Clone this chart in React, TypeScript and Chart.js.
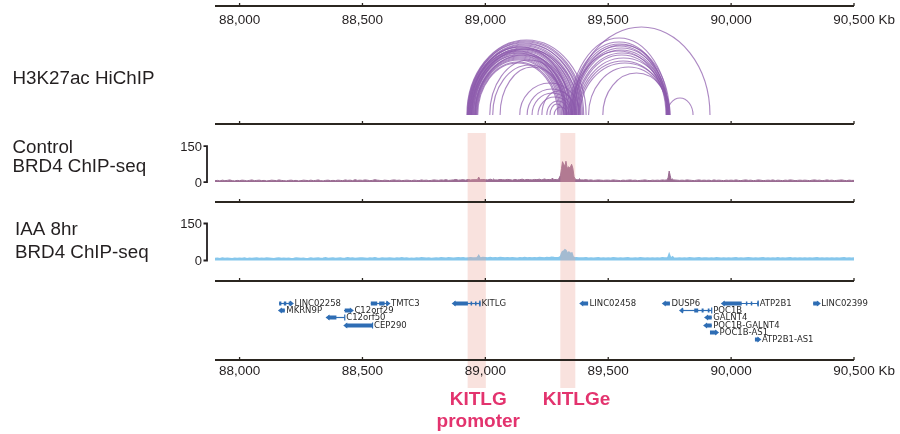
import React, { useEffect, useRef } from 'react';
import { Chart, registerables } from 'chart.js';

Chart.register(...registerables);

// Genomic window, in kb
const REGION_START = 87900;
const REGION_END = 90500;
const BIN_KB = 10;
const AXIS_TICKS = [88000, 88500, 89000, 89500, 90000, 90500];
const AXIS_UNIT = 'Kb';
const SIGNAL_TICKS = [0, 150];

// BRD4 ChIP-seq coverage in 10 kb bins starting at REGION_START
const controlBins = [
  6, 7, 5, 8, 6, 7, 9, 6, 5, 7,
  6, 8, 7, 5, 7, 9, 6, 7, 8, 6,
  7, 5, 6, 8, 7, 6, 9, 7, 6, 5,
  7, 8, 6, 7, 5, 6, 8, 7, 6, 8,
  6, 7, 9, 6, 5, 7, 8, 6, 7, 6,
  8, 7, 6, 9, 7, 8, 6, 10, 7, 8,
  7, 9, 8, 6, 7, 10, 8, 7, 6, 8,
  7, 6, 8, 9, 7, 8, 6, 7, 8, 7,
  6, 8, 7, 6, 9, 7, 8, 6, 7, 9,
  8, 7, 9, 8, 10, 7, 8, 9, 11, 8,
  9, 10, 8, 11, 9, 10, 12, 9, 10, 11,
  10, 9, 12, 10, 13, 9, 11, 10, 9, 11,
  10, 8, 11, 9, 10, 12, 9, 11, 10, 9,
  11, 10, 12, 9, 13, 10, 11, 12, 10, 11,
  12, 10, 10, 10, 10, 10, 10, 11, 10, 9,
  9, 10, 8, 9, 7, 8, 9, 8, 7, 8,
  8, 7, 9, 8, 7, 6, 8, 7, 8, 9,
  7, 8, 6, 7, 8, 9, 7, 6, 8, 7,
  8, 7, 9, 8, 10, 9, 8, 7, 8, 7,
  8, 7, 9, 8, 7, 6, 8, 9, 7, 8,
  7, 8, 6, 9, 7, 8, 7, 6, 8, 7,
  8, 7, 9, 7, 6, 8, 9, 7, 8, 6,
  7, 9, 8, 6, 7, 8, 7, 9, 6, 8,
  7, 6, 8, 7, 9, 8, 6, 7, 8, 7,
  8, 7, 6, 8, 9, 7, 8, 6, 7, 9,
  7, 8, 6, 7, 8, 9, 7, 6, 8, 7,
  7,
];

const iaaBins = [
  8, 9, 7, 10, 8, 9, 8, 7, 9, 8,
  9, 8, 10, 7, 9, 8, 9, 10, 8, 9,
  8, 10, 9, 8, 7, 9, 10, 8, 9, 8,
  9, 7, 8, 10, 9, 8, 9, 7, 8, 10,
  8, 9, 10, 8, 9, 11, 8, 9, 10, 8,
  9, 10, 8, 9, 11, 9, 10, 8, 9, 10,
  10, 9, 8, 10, 9, 11, 9, 8, 10, 9,
  9, 10, 9, 8, 10, 9, 11, 9, 10, 8,
  9, 8, 10, 9, 11, 10, 9, 10, 8, 9,
  10, 9, 11, 10, 9, 11, 10, 9, 10, 11,
  10, 11, 9, 10, 11, 10, 11, 10, 11, 12,
  11, 10, 12, 10, 11, 10, 12, 11, 10, 11,
  10, 11, 10, 9, 11, 10, 12, 10, 11, 10,
  11, 10, 12, 11, 10, 12, 11, 13, 12, 11,
  12, 11, 11, 11, 11, 11, 11, 11, 10, 10,
  10, 11, 9, 10, 9, 10, 11, 9, 10, 9,
  10, 9, 11, 10, 9, 10, 9, 10, 11, 9,
  9, 10, 9, 11, 10, 9, 10, 9, 10, 9,
  10, 9, 11, 10, 11, 10, 9, 10, 9, 10,
  9, 10, 9, 11, 10, 9, 10, 11, 9, 10,
  10, 9, 10, 9, 11, 10, 9, 10, 9, 10,
  9, 10, 11, 9, 10, 9, 10, 11, 10, 9,
  10, 9, 10, 11, 9, 10, 9, 10, 9, 11,
  9, 10, 9, 10, 11, 9, 10, 9, 10, 9,
  10, 9, 10, 9, 10, 11, 9, 10, 9, 10,
  9, 10, 9, 10, 9, 10, 11, 9, 10, 9,
  10,
];

// Finer coverage around the peaks
const controlPeakKb = [
  88966, 88970, 88973, 88977, 88981,
  89030, 89034, 89038,
  89268, 89273, 89278,
  89290, 89295, 89299, 89306, 89310, 89314, 89318, 89324, 89328, 89333, 89339, 89344, 89351, 89356, 89361, 89366, 89372, 89378, 89383, 89388,
  89740, 89744, 89748, 89752, 89756, 89762, 89766,
];
const controlPeakVal = [
  10, 15, 21, 13, 10,
  9, 13, 9,
  10, 17, 10,
  11, 10, 14, 29, 57, 85, 75, 68, 87, 58, 64, 58, 74, 58, 22, 12, 10, 9, 14, 9,
  9, 20, 46, 28, 10, 13, 9,
];
const iaaPeakKb = [
  88966, 88970, 88973, 88977, 88981,
  89293, 89299, 89306, 89310, 89314, 89319, 89324, 89328, 89335, 89340, 89347, 89352, 89357, 89364, 89370,
  89740, 89744, 89748, 89752, 89756, 89762, 89766,
];
const iaaPeakVal = [
  11, 15, 20, 13, 10,
  11, 12, 15, 28, 36, 38, 43, 40, 27, 34, 28, 30, 14, 10, 11,
  10, 14, 26, 15, 10, 15, 10,
];

// H3K27ac HiChIP loops: anchors (kb) and arc height
const loopStart = [
  88925, 88927, 88930, 88928, 88933, 88935, 88938, 88930, 88940, 88943,
  88936, 88945, 88948, 88941, 88950, 88953, 88946, 88956, 88958, 88960,
  88962, 88964, 88966, 88969, 88932, 88938, 88944, 88952, 88958, 89018,
  89030, 89060, 89140, 89170, 89190, 89214, 89250, 89263, 89280, 89230,
  89344, 89348, 89352, 89356, 89360, 89364, 89368, 89372, 89376, 89380,
  89385, 89420, 89478, 89356, 89739, 89350, 89362,
];
const loopEnd = [
  89410, 89400, 89395, 89385, 89390, 89378, 89372, 89365, 89368, 89360,
  89355, 89350, 89345, 89340, 89336, 89332, 89328, 89325, 89320, 89315,
  89310, 89305, 89300, 89295, 89330, 89345, 89320, 89380, 89352, 89340,
  89330, 89325, 89385, 89370, 89355, 89350, 89340, 89320, 89335, 89365,
  89745, 89740, 89742, 89738, 89746, 89740, 89744, 89738, 89748, 89742,
  89750, 89745, 89752, 89914, 89845, 89735, 89750,
];
const loopHeight = [
  75, 74, 73, 72, 71, 70, 69, 68, 67, 66,
  66, 65, 64, 63, 62, 61, 60, 59, 58, 57,
  56, 55, 53, 52, 64, 68, 62, 66, 60, 55,
  50, 48, 32, 26, 22, 18, 14, 11, 8, 24,
  77, 73, 71, 69, 67, 65, 62, 60, 57, 54,
  52, 48, 42, 88, 17, 64, 70,
];

// RefSeq genes
const geneNames = [
  'LINC02258', 'MKRN9P', 'TMTC3', 'C12orf29', 'C12orf50', 'CEP290', 'KITLG', 'LINC02458',
  'DUSP6', 'ATP2B1', 'LINC02399', 'POC1B', 'GALNT4', 'POC1B-GALNT4', 'POC1B-AS1', 'ATP2B1-AS1',
];
const geneStart = [88161, 88166, 88534, 88425, 88360, 88432, 88873, 89392, 89728, 89968, 90334, 89798, 89900, 89896, 89914, 90097];
const geneEnd = [88211, 88184, 88604, 88455, 88428, 88541, 88978, 89418, 89751, 90110, 90355, 89921, 89921, 89921, 89941, 90113];
const geneStrand = [1, -1, 1, 1, -1, -1, -1, -1, -1, -1, 1, -1, -1, -1, 1, 1];
const geneRow = [0, 1, 0, 1, 2, 3, 0, 0, 0, 0, 0, 1, 2, 3, 4, 5];
const geneExons = [
  [88161, 88170, 88180, 88190, 88200, 88211],
  [88168, 88184],
  [88534, 88560, 88568, 88590, 88596, 88604],
  [88428, 88450],
  [88360, 88394],
  [88432, 88541],
  [88873, 88929, 88940, 88944, 88958, 88962, 88974, 88978],
  [89396, 89418],
  [89730, 89751],
  [89968, 90043, 90060, 90066, 90080, 90086, 90106, 90110],
  [90334, 90355],
  [89798, 89806, 89850, 89866, 89880, 89888, 89905, 89912],
  [89902, 89921],
  [89898, 89921],
  [89914, 89941],
  [90097, 90113],
];

// Highlighted regions
const regionStart = [88928, 89305];
const regionEnd = [89002, 89366];
const regionLabelKb = [88971, 89371];
const regionLabels = [['KITLG', 'promoter'], ['KITLGe']];

const TRACK_TITLES = [['H3K27ac HiChIP'], ['Control', 'BRD4 ChIP-seq'], ['IAA 8hr', 'BRD4 ChIP-seq']];

const FONT = '"Liberation Sans", Arial, Helvetica, sans-serif';
const INK = '#231f20';
const AXIS_INK = '#2b2620';
const LOOP_COLOR = 'rgba(140, 90, 172, 0.72)';
const CONTROL_COLOR = '#9a6b92';
const IAA_COLOR = '#86c7ec';
const GENE_COLOR = '#2e6db4';
const REGION_FILL = 'rgba(235, 160, 145, 0.3)';
const REGION_TEXT = '#e3336e';

function buildTrack(bins: number[], peakKb: number[], peakVal: number[]) {
  const pts: { x: number; y: number }[] = [];
  bins.forEach((v, i) => {
    const kb = REGION_START + i * BIN_KB;
    if (!peakKb.some((p) => Math.abs(p - kb) < 7)) pts.push({ x: kb, y: v });
  });
  peakKb.forEach((kb, i) => pts.push({ x: kb, y: peakVal[i] }));
  pts.sort((a, b) => a.x - b.x);
  return pts;
}

const fmt = (v: number) => v.toLocaleString('en-US');

const tracksPlugin = {
  id: 'genomeTracks',
  afterDatasetsDraw(chart: any) {
    const { ctx, chartArea: area } = chart;
    const xs = chart.scales.x;
    const yHic = chart.scales.yHic;
    const yCtrl = chart.scales.yCtrl;
    const yIaa = chart.scales.yIaa;
    const yGene = chart.scales.yGene;
    const px = (kb: number) => xs.getPixelForValue(kb);
    ctx.save();

    // highlighted regions
    const bandTop = yCtrl.top + 9;
    const bandBottom = area.bottom + 28;
    ctx.fillStyle = REGION_FILL;
    regionStart.forEach((s, i) => {
      const x1 = px(s);
      const x2 = px(regionEnd[i]);
      ctx.fillRect(x1, bandTop, x2 - x1, bandBottom - bandTop);
    });

    // HiChIP loops
    const base = yHic.getPixelForValue(0);
    ctx.strokeStyle = LOOP_COLOR;
    ctx.lineWidth = 1.15;
    loopStart.forEach((s, i) => {
      const x1 = px(s);
      const x2 = px(loopEnd[i]);
      const ry = base - yHic.getPixelForValue(loopHeight[i]);
      ctx.beginPath();
      ctx.moveTo(x1, base);
      ctx.ellipse((x1 + x2) / 2, base, (x2 - x1) / 2, ry, 0, Math.PI, 2 * Math.PI);
      ctx.stroke();
    });

    // genes
    ctx.font = `8.5px "DejaVu Sans", sans-serif`;
    ctx.textBaseline = 'middle';
    ctx.textAlign = 'left';
    geneNames.forEach((name, i) => {
      const y = Math.round(yGene.getPixelForValue(geneRow[i])) + 0.5;
      const x1 = px(geneStart[i]);
      const x2 = px(geneEnd[i]);
      ctx.strokeStyle = GENE_COLOR;
      ctx.fillStyle = GENE_COLOR;
      ctx.lineWidth = 1.2;
      ctx.beginPath();
      ctx.moveTo(x1, y);
      ctx.lineTo(x2, y);
      ctx.stroke();
      const ex = geneExons[i];
      for (let k = 0; k < ex.length; k += 2) {
        const a = px(ex[k]);
        const b = px(ex[k + 1]);
        ctx.fillRect(a, y - 2, Math.max(b - a, 1.5), 4);
      }
      ctx.beginPath();
      if (geneStrand[i] < 0) {
        ctx.moveTo(x1 - 2.5, y);
        ctx.lineTo(x1 + 1.5, y - 3);
        ctx.lineTo(x1 + 1.5, y + 3);
      } else {
        ctx.moveTo(x2 + 2.5, y);
        ctx.lineTo(x2 - 1.5, y - 3);
        ctx.lineTo(x2 - 1.5, y + 3);
      }
      ctx.closePath();
      ctx.fill();
      if (geneStrand[i] < 0 && x2 - x1 > 12) {
        ctx.beginPath();
        ctx.moveTo(x2, y - 3);
        ctx.lineTo(x2, y + 3);
        ctx.stroke();
      }
      ctx.fillStyle = '#2a2a2a';
      ctx.fillText(name, x2 + (geneStrand[i] > 0 ? 3 : 1.5), y + 0.5);
    });

    // axis lines: top ruler, track separators, bottom ruler
    const lines = [yHic.top, yCtrl.top, yIaa.top, yGene.top, yGene.bottom];
    ctx.strokeStyle = AXIS_INK;
    ctx.lineWidth = 2;
    lines.forEach((ly) => {
      ctx.beginPath();
      ctx.moveTo(area.left, ly);
      ctx.lineTo(area.right, ly);
      ctx.stroke();
      ctx.lineWidth = 1.3;
      AXIS_TICKS.forEach((t) => {
        const tx = px(t);
        ctx.beginPath();
        ctx.moveTo(tx, ly);
        ctx.lineTo(tx, ly - 3);
        ctx.stroke();
      });
      ctx.lineWidth = 2;
    });

    // ruler labels
    ctx.font = `13.5px ${FONT}`;
    ctx.fillStyle = INK;
    ctx.textBaseline = 'middle';
    [yHic.top + 14, yGene.bottom + 11].forEach((ly) => {
      AXIS_TICKS.forEach((t, i) => {
        const tx = px(t);
        const label = fmt(t);
        ctx.textAlign = 'center';
        ctx.fillText(label, tx, ly);
        if (i === AXIS_TICKS.length - 1) {
          ctx.textAlign = 'left';
          ctx.fillText(' ' + AXIS_UNIT, tx + ctx.measureText(label).width / 2, ly);
        }
      });
    });

    // signal brackets
    [yCtrl, yIaa].forEach((sc) => {
      const yTop = sc.getPixelForValue(SIGNAL_TICKS[1]);
      const yBot = sc.getPixelForValue(SIGNAL_TICKS[0]);
      const bx = area.left - 8;
      ctx.strokeStyle = INK;
      ctx.lineWidth = 1.8;
      ctx.beginPath();
      ctx.moveTo(bx - 3.5, yTop);
      ctx.lineTo(bx, yTop);
      ctx.lineTo(bx, yBot);
      ctx.lineTo(bx - 3.5, yBot);
      ctx.stroke();
      ctx.font = `13px ${FONT}`;
      ctx.textAlign = 'right';
      ctx.textBaseline = 'middle';
      ctx.fillStyle = INK;
      SIGNAL_TICKS.forEach((t) => ctx.fillText(String(t), bx - 5, sc.getPixelForValue(t) + 1));
    });

    // track titles
    ctx.font = `18.8px ${FONT}`;
    ctx.textAlign = 'left';
    ctx.textBaseline = 'alphabetic';
    ctx.fillStyle = INK;
    ctx.fillText(TRACK_TITLES[0][0], 12.5, yHic.top + 78);
    ctx.fillText(TRACK_TITLES[1][0], 12.5, yCtrl.top + 29);
    ctx.fillText(TRACK_TITLES[1][1], 12.5, yCtrl.top + 48);
    ctx.fillText(TRACK_TITLES[2][0], 15, yIaa.top + 33);
    ctx.fillText(TRACK_TITLES[2][1], 15, yIaa.top + 56);

    // region labels
    ctx.font = `bold 19px ${FONT}`;
    ctx.textAlign = 'center';
    ctx.fillStyle = REGION_TEXT;
    regionLabels.forEach((lines2, i) => {
      const cx = px(regionLabelKb[i]);
      lines2.forEach((t, j) => ctx.fillText(t, cx, area.bottom + 45 + j * 21.5));
    });

    ctx.restore();
  },
};

export default function App() {
  const canvasRef = useRef<HTMLCanvasElement | null>(null);

  useEffect(() => {
    document.body.style.margin = '0';
    const canvas = canvasRef.current;
    if (!canvas) return;
    const chart = new Chart(canvas, {
      type: 'line',
      data: {
        datasets: [
          {
            label: 'Control BRD4 ChIP-seq',
            data: buildTrack(controlBins, controlPeakKb, controlPeakVal),
            xAxisID: 'x',
            yAxisID: 'yCtrl',
            borderColor: CONTROL_COLOR,
            backgroundColor: CONTROL_COLOR,
            borderWidth: 1,
            pointRadius: 0,
            tension: 0,
            fill: 'origin',
          },
          {
            label: 'IAA 8hr BRD4 ChIP-seq',
            data: buildTrack(iaaBins, iaaPeakKb, iaaPeakVal),
            xAxisID: 'x',
            yAxisID: 'yIaa',
            borderColor: IAA_COLOR,
            backgroundColor: IAA_COLOR,
            borderWidth: 1.6,
            pointRadius: 0,
            tension: 0,
            fill: 'origin',
          },
        ],
      },
      options: {
        responsive: false,
        animation: false,
        devicePixelRatio: 1,
        events: [],
        layout: { padding: { left: 215, right: 46, top: 6, bottom: 74 } },
        plugins: {
          legend: { display: false },
          title: { display: false },
          tooltip: { enabled: false },
        },
        scales: {
          x: { type: 'linear', min: REGION_START, max: REGION_END, display: false },
          yHic: { type: 'linear', position: 'right', stack: 'tracks', stackWeight: 118, min: -9, max: 109, display: false },
          yCtrl: { type: 'linear', position: 'right', stack: 'tracks', stackWeight: 78, min: -83, max: 242, display: false },
          yIaa: { type: 'linear', position: 'right', stack: 'tracks', stackWeight: 79, min: -83, max: 237, display: false },
          yGene: { type: 'linear', position: 'right', stack: 'tracks', stackWeight: 79, min: -2.98, max: 7.88, reverse: true, display: false },
        },
      },
      plugins: [tracksPlugin],
    });
    return () => chart.destroy();
  }, []);

  return (
    <div style={{ position: 'absolute', left: 0, top: 0, width: 900, height: 434, background: '#fff' }}>
      <canvas ref={canvasRef} width={900} height={434} />
    </div>
  );
}
